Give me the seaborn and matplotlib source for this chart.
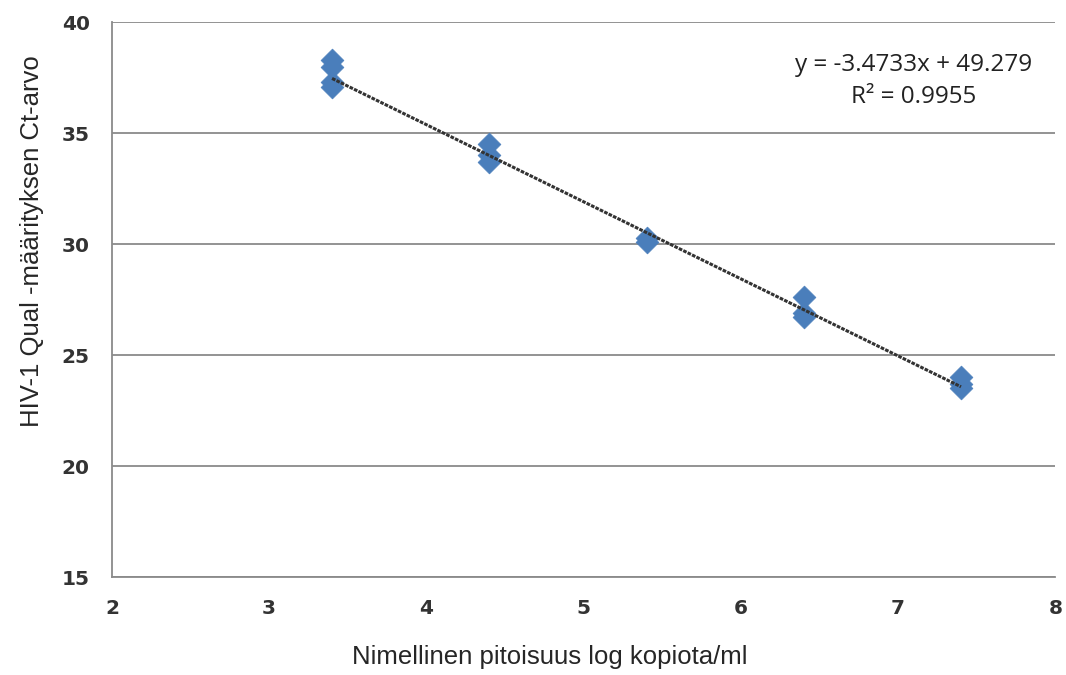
import numpy as np
import pandas as pd
import seaborn as sns
import matplotlib.pyplot as plt

# mittauspisteet (log kopiota/ml, Ct-arvo)
pitoisuus = [3.4, 3.4, 3.4, 3.4,
             4.4, 4.4, 4.4,
             5.4, 5.4,
             6.4, 6.4, 6.4,
             7.4, 7.4, 7.4]
ct_arvo = [38.3, 38.0, 37.3, 37.1,
           34.5, 34.0, 33.7,
           30.3, 30.1,
           27.6, 26.9, 26.7,
           24.0, 23.7, 23.5]

# trendiviivan kertoimet kuvasta
kulmakerroin = -3.4733
vakio = 49.279
r2 = 0.9955

x_ticks = [2, 3, 4, 5, 6, 7, 8]
y_ticks = [15, 20, 25, 30, 35, 40]

df = pd.DataFrame({'x': pitoisuus, 'y': ct_arvo})

sns.set_style('white')
plt.rcParams['font.family'] = ['Liberation Sans', 'DejaVu Sans']

fig = plt.figure(figsize=(10.66, 6.75), dpi=100)
ax = fig.add_axes([0.105, 0.145, 0.885, 0.822])

# vaakasuorat apuviivat
ax.set_axisbelow(True)
for yt in y_ticks:
    ax.axhline(yt, color='#8a8a8a', lw=1.3, zorder=0)

sns.scatterplot(data=df, x='x', y='y', marker='D', s=135, color='#4a7ebb',
                edgecolor='#4a7ebb', linewidth=0.5, ax=ax, zorder=2)

# lineaarinen trendiviiva
xl = np.array([min(pitoisuus), max(pitoisuus)])
ax.plot(xl, kulmakerroin * xl + vakio, color='#333333', lw=2.2,
        linestyle=(0, (1.2, 0.4)), zorder=3)

ax.set_xlim(2, 8)
ax.set_ylim(15, 40)
ax.set_xticks(x_ticks, labels=[str(v) for v in x_ticks],
              fontfamily='DejaVu Sans', fontweight='bold', fontsize=14.5)
ax.set_yticks(y_ticks, labels=[str(v) for v in y_ticks],
              fontfamily='DejaVu Sans', fontweight='bold', fontsize=14.5)

for s in ['top', 'right']:
    ax.spines[s].set_visible(False)
for s in ['left', 'bottom']:
    ax.spines[s].set_color('#8a8a8a')
    ax.spines[s].set_linewidth(1.3)

ax.tick_params(axis='both', direction='out', length=7, width=1.3, color='#8a8a8a',
               labelcolor='#333333', pad=9)

ax.set_xlabel('Nimellinen pitoisuus log kopiota/ml', fontsize=18.5)
ax.set_ylabel('HIV-1 Qual -määrityksen Ct-arvo', fontsize=18.5)
ax.xaxis.set_label_coords(0.4645, -0.122)
ax.yaxis.set_label_coords(-0.072, 0.605)

ax.text(0.85, 0.894, f'y = {kulmakerroin}x + {vakio}\nR² = {r2}',
        transform=ax.transAxes, ha='center', va='center', fontsize=17.5,
        fontfamily='Open Sans', color='#222222', linespacing=1.43)

fig.savefig('out.png', dpi=100)
